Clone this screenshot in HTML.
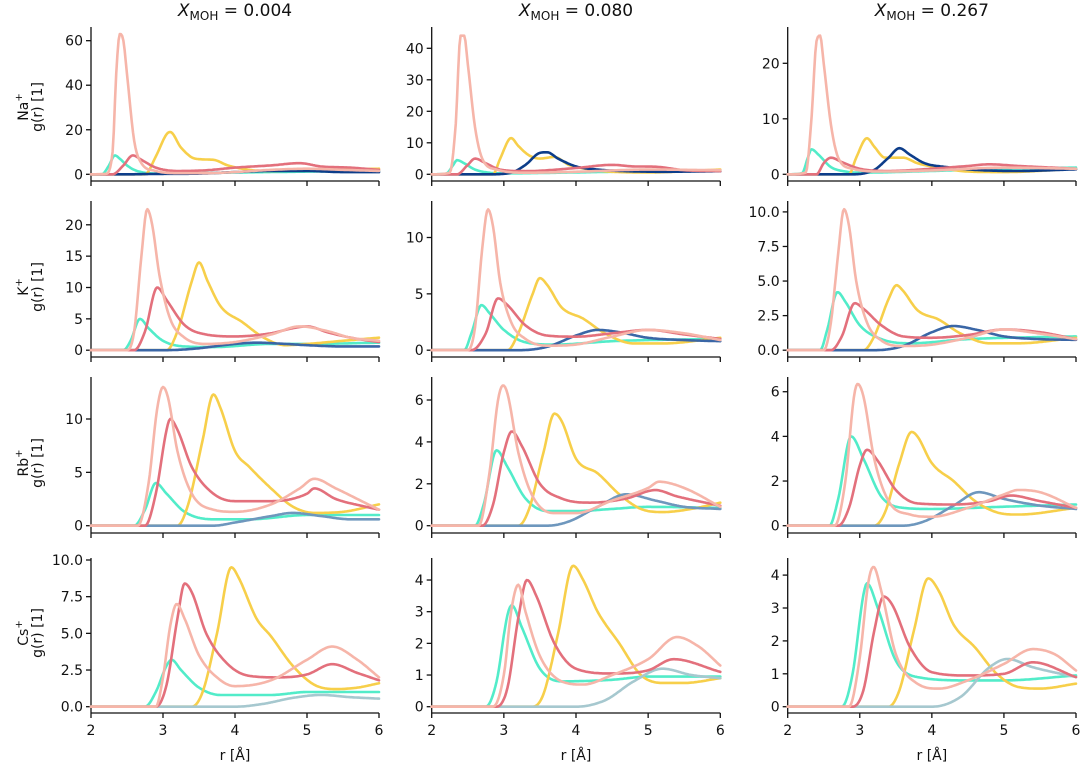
<!DOCTYPE html>
<html><head><meta charset="utf-8"><style>
html,body{margin:0;padding:0;background:#fff;}
svg{display:block;font-family:"DejaVu Sans","Liberation Sans",sans-serif;}
</style></head><body>
<svg id="chart" width="1080" height="768" viewBox="0 0 1080 768" xmlns="http://www.w3.org/2000/svg"></svg>
<script>
// ---- data: [r, g, r, g, ...] pairs ----
const colTitles = ["0.004","0.080","0.267"];
const rowIons = ["Na","K","Rb","Cs"];
const xTicks = [2,3,4,5,6];
const yTicksNa = [[0,20,40,60],[0,10,20,30,40],[0,10,20]];
const yTicksK  = [[0,5,10,15,20],[0,5,10],["0.0","2.5","5.0","7.5","10.0"]];
const yTicksRb = [[0,5,10],[0,2,4,6],[0,2,4,6]];
const yTicksCs = [["0.0","2.5","5.0","7.5","10.0"],[0,1,2,3,4],[0,1,2,3,4]];

const na1_t=[2,0,2.15,0,2.25,4,2.33,8.5,2.4,7,2.5,4,2.6,2,2.8,0.5,3,0.3,4,0.8,5,1.2,6,1.5];
const na1_y=[2,0,2.75,0,2.9,8,3.05,18,3.1,19,3.25,12,3.45,7,3.7,6.5,3.9,4,4.2,2,4.5,1.5,5,2,6,2.5];
const na1_b=[2,0,2.5,0,3,0.2,3.5,0.3,4,1,4.5,1.5,5,1.5,5.5,1,6,1];
const na1_r=[2,0,2.3,0,2.45,4,2.58,8.5,2.7,6.5,2.9,3,3.2,1.5,3.6,1.8,4,3,4.5,4,4.9,5,5.2,3.5,5.6,3,6,2];
const na1_p=[2,0,2.2,0.2,2.3,10,2.35,45,2.4,63,2.45,60,2.5,45,2.6,15,2.7,5,2.9,1.5,3.2,0.5,3.6,0.5,4,1,4.5,2,5,2.5,5.5,2,6,1.5];

const na2_t=[2,0,2.2,0.2,2.3,3,2.35,4.5,2.45,3.5,2.6,1.5,2.8,0.5,3,0.3,4,0.6,5,1,6,1.2];
const na2_y=[2,0,2.85,0,2.95,5,3.1,11.5,3.2,9,3.35,6,3.5,5,3.7,5.5,3.9,3,4.2,1.5,4.5,0.8,5,0.6,6,1.5];
const na2_b=[2,0,2.8,0,3.1,0.5,3.3,3,3.5,6.8,3.6,7,3.75,5,4,2.5,4.3,1.5,4.7,1,5.2,0.8,6,1];
const na2_r=[2,0,2.35,0,2.5,3,2.6,5,2.75,3.5,2.95,1.5,3.3,1,4,2,4.5,3,4.8,2.5,5.1,2.4,5.5,1.3,6,1];
const na2_p=[2,0,2.25,0.5,2.33,15,2.4,44,2.45,44,2.5,35,2.6,15,2.7,5,2.9,1.5,3.3,0.5,4,0.8,5,1.5,6,1.3];

const na3_t=[2,0,2.2,0.2,2.28,3,2.33,4.5,2.43,3.5,2.6,1.3,2.8,0.5,3,0.3,4,0.6,5,1,6,1.2];
const na3_y=[2,0,2.85,0,2.95,3,3.1,6.5,3.2,5,3.35,3,3.6,3,3.8,2,4.1,1.2,4.5,0.5,5,0.4,6,1];
const na3_b=[2,0,2.9,0,3.2,0.8,3.4,3,3.55,4.7,3.7,3.5,3.9,2,4.2,1.3,4.6,0.8,5.2,0.6,6,0.9];
const na3_r=[2,0,2.4,0,2.5,2,2.6,3,2.75,2.2,3,1,3.4,0.6,4,1,4.5,1.5,4.8,1.8,5.2,1.5,6,1];
const na3_p=[2,0,2.25,0.3,2.33,10,2.4,24,2.45,25,2.5,20,2.6,9,2.7,3,2.9,1,3.3,0.5,4,0.7,5,1.2,6,1];

const k1_t=[2,0,2.45,0,2.55,1.5,2.68,5,2.8,3.5,3,1.5,3.3,0.6,3.7,0.5,4.5,1,5,1,6,1.2];
const k1_y=[2,0,3.05,0,3.2,3,3.4,11,3.5,14,3.62,11,3.8,7,4.1,4.5,4.4,2,4.7,0.8,5,1,5.5,1.5,6,2];
const k1_b=[2,0,3,0,3.4,0.2,4,1,4.3,1.2,4.7,1,5,0.8,5.5,0.6,6,0.6];
const k1_r=[2,0,2.6,0,2.75,3,2.92,10,3.05,8,3.3,4,3.6,2.5,4,2.2,4.5,2.7,4.8,3.5,5,3.8,5.3,2.8,5.7,1.8,6,1.3];
const k1_p=[2,0,2.5,0,2.6,3,2.7,15,2.78,22.5,2.85,20,2.95,12,3.1,5,3.3,2,3.6,1,4,1.3,4.5,2.5,4.9,3.8,5.3,3,5.6,2,6,1.5];

const k2_t=[2,0,2.45,0,2.55,1.5,2.69,4,2.8,3.3,3,1.8,3.3,0.7,3.7,0.5,4.5,0.8,5,0.9,6,1];
const k2_y=[2,0,3.05,0,3.2,1.5,3.4,5,3.5,6.4,3.6,5.8,3.8,3.8,4.1,2.8,4.4,1.5,4.8,0.6,5.2,0.6,6,1.1];
const k2_b=[2,0,3.2,0,3.6,0.3,4,1.3,4.3,1.8,4.6,1.6,5,1.1,5.5,0.9,6,0.8];
const k2_r=[2,0,2.55,0,2.75,1.5,2.92,4.6,3.05,4,3.3,2.2,3.6,1.3,4,1.2,4.5,1.5,5,1.8,5.5,1.4,6,1];
const k2_p=[2,0,2.5,0,2.6,2,2.7,9,2.78,12.5,2.85,11,2.95,6,3.1,2.5,3.3,1,3.6,0.4,4,0.5,4.5,1.2,5,1.8,5.5,1.5,6,0.9];

const k3_t=[2,0,2.45,0,2.55,1.5,2.69,4.2,2.8,3.5,3,1.8,3.3,0.8,3.7,0.5,4.5,0.8,6,1];
const k3_y=[2,0,3.05,0,3.2,1,3.4,3.7,3.51,4.7,3.6,4.3,3.8,2.9,4.1,2.2,4.4,1.2,4.8,0.5,5.2,0.5,6,0.9];
const k3_b=[2,0,3.2,0,3.6,0.3,4,1.3,4.3,1.75,4.6,1.5,5,1,5.5,0.8,6,0.75];
const k3_r=[2,0,2.6,0,2.75,1,2.93,3.4,3.05,3,3.3,1.8,3.6,1,4,0.9,4.5,1.1,5,1.5,5.5,1.3,6,0.8];
const k3_p=[2,0,2.5,0,2.6,2,2.7,7,2.78,10.2,2.85,9,2.95,5,3.1,2,3.3,0.7,3.6,0.3,4,0.4,4.5,0.9,5,1.5,5.5,1.2,6,0.8];

const rb1_t=[2,0,2.6,0,2.75,1.5,2.9,4,3.05,3,3.3,1.3,3.7,0.6,4.2,0.6,5,1,6,1];
const rb1_y=[2,0,3.2,0,3.35,2,3.55,8,3.7,12.3,3.8,11,4,7,4.2,5.5,4.5,3.5,4.8,1.8,5.1,1.2,5.5,1.3,6,2];
const rb1_b=[2,0,3.7,0,4,0.3,4.5,0.9,4.8,1.2,5.2,0.9,5.6,0.6,6,0.6];
const rb1_r=[2,0,2.75,0,2.9,3,3.05,9,3.1,10,3.2,9,3.4,5.5,3.7,3,4,2.3,4.5,2.3,5,3,5.1,3.5,5.4,2.5,5.8,1.8,6,1.5];
const rb1_p=[2,0,2.65,0,2.8,4,2.92,11,3,13,3.07,12,3.2,7,3.4,3,3.7,1.5,4,1.3,4.5,2,4.9,3.5,5.1,4.4,5.4,3.5,5.7,2.5,6,1.5];

const rb2_t=[2,0,2.6,0,2.72,1,2.9,3.6,3.05,2.8,3.3,1.3,3.6,0.7,4,0.7,4.5,0.8,5,0.9,6,0.85];
const rb2_y=[2,0,3.2,0,3.35,0.8,3.55,3.5,3.7,5.35,3.8,5,4,3.2,4.3,2.5,4.6,1.5,4.9,0.8,5.2,0.65,5.6,0.8,6,1.1];
const rb2_b=[2,0,3.6,0,3.9,0.2,4.3,0.9,4.7,1.5,5.1,1.2,5.5,0.9,6,0.8];
const rb2_r=[2,0,2.7,0,2.85,1,3,3.5,3.11,4.5,3.25,3.8,3.5,2,3.8,1.3,4.2,1.1,4.7,1.3,5.1,1.7,5.4,1.4,6,0.95];
const rb2_p=[2,0,2.65,0,2.8,2.5,2.92,6,2.99,6.7,3.05,6.3,3.2,3.5,3.4,1.4,3.7,0.6,4,0.6,4.5,1.2,5,1.8,5.15,2.1,5.5,1.8,6,0.9];

const rb3_t=[2,0,2.58,0,2.7,1.2,2.88,4,3.05,3,3.3,1.3,3.6,0.8,4,0.75,5,0.85,6,0.95];
const rb3_y=[2,0,3.2,0,3.35,0.6,3.55,2.8,3.72,4.2,3.8,4,4,2.8,4.3,2,4.6,1.1,4.9,0.6,5.2,0.5,6,0.8];
const rb3_b=[2,0,3.6,0,3.9,0.2,4.3,0.9,4.65,1.5,5,1.2,5.5,0.9,6,0.75];
const rb3_r=[2,0,2.7,0,2.85,0.8,3,2.7,3.1,3.4,3.25,2.9,3.5,1.6,3.8,1,4.3,0.95,4.8,1.1,5.1,1.35,5.5,1.1,6,0.8];
const rb3_p=[2,0,2.65,0,2.8,2,2.92,5.8,2.97,6.35,3.05,5.8,3.2,3,3.4,1.1,3.7,0.5,4,0.4,4.5,0.8,5,1.4,5.2,1.6,5.5,1.5,6,0.8];

const cs1_t=[2,0,2.75,0,2.9,1,3.05,2.8,3.12,3.2,3.25,2.5,3.5,1.3,3.8,0.8,4.5,0.8,5,1,6,1];
const cs1_y=[2,0,3.4,0,3.55,1,3.75,5,3.95,9.5,4.05,8.8,4.3,6,4.5,4.8,4.8,2.8,5.1,1.5,5.4,1.2,5.7,1.3,6,1.6];
const cs1_b=[2,0,4,0,4.4,0.2,4.8,0.6,5.2,0.8,5.6,0.65,6,0.55];
const cs1_r=[2,0,2.9,0,3.05,1.5,3.2,6,3.3,8.4,3.4,7.8,3.6,5,3.9,2.9,4.2,2.1,4.6,2,5,2.2,5.35,2.9,5.7,2.3,6,1.8];
const cs1_p=[2,0,2.9,0,3,2,3.1,5.5,3.19,7,3.3,6,3.5,3.5,3.8,1.8,4,1.4,4.5,1.8,5,3.2,5.35,4.1,5.7,3.2,6,2];

const cs2_t=[2,0,2.75,0,2.9,0.8,3.05,2.9,3.11,3.2,3.25,2.5,3.5,1.2,3.8,0.8,4.5,0.85,5,0.95,6,0.95];
const cs2_y=[2,0,3.4,0,3.55,0.4,3.75,2.3,3.96,4.45,4.1,4,4.3,3,4.6,2,4.9,1,5.2,0.75,5.5,0.75,6,0.9];
const cs2_b=[2,0,4,0,4.4,0.2,4.8,0.8,5.2,1.2,5.6,1,6,0.9];
const cs2_r=[2,0,2.9,0,3.05,0.6,3.2,2.8,3.32,4,3.45,3.5,3.7,2,4,1.2,4.5,1.05,5,1.15,5.35,1.5,6,1.1];
const cs2_p=[2,0,2.85,0,3,1,3.1,3,3.2,3.85,3.3,3,3.5,1.6,3.8,0.8,4.1,0.7,4.5,1,5,1.5,5.4,2.2,5.7,1.9,6,1.3];

const cs3_t=[2,0,2.75,0,2.9,1,3.05,3.4,3.1,3.75,3.25,3,3.5,1.4,3.8,0.9,4.5,0.8,5,0.8,6,0.95];
const cs3_y=[2,0,3.4,0,3.55,0.5,3.75,2.3,3.95,3.9,4.1,3.5,4.3,2.5,4.6,1.8,4.9,1,5.2,0.6,5.5,0.55,6,0.7];
const cs3_b=[2,0,4,0,4.4,0.3,4.8,1.2,5.05,1.45,5.4,1.2,6,0.9];
const cs3_r=[2,0,2.9,0,3.05,0.5,3.2,2.3,3.33,3.35,3.45,3.1,3.7,1.8,4,1.05,4.5,0.95,5,1,5.4,1.35,6,0.9];
const cs3_p=[2,0,2.85,0,3,1.5,3.12,3.8,3.19,4.25,3.3,3.5,3.5,1.6,3.8,0.7,4.1,0.55,4.5,0.8,5,1.3,5.4,1.75,5.7,1.6,6,1.1];

const panelSeries = [
  [[na1_t,na1_y,na1_b,na1_r,na1_p],[na2_t,na2_y,na2_b,na2_r,na2_p],[na3_t,na3_y,na3_b,na3_r,na3_p]],
  [[k1_t,k1_y,k1_b,k1_r,k1_p],[k2_t,k2_y,k2_b,k2_r,k2_p],[k3_t,k3_y,k3_b,k3_r,k3_p]],
  [[rb1_t,rb1_y,rb1_b,rb1_r,rb1_p],[rb2_t,rb2_y,rb2_b,rb2_r,rb2_p],[rb3_t,rb3_y,rb3_b,rb3_r,rb3_p]],
  [[cs1_t,cs1_y,cs1_b,cs1_r,cs1_p],[cs2_t,cs2_y,cs2_b,cs2_r,cs2_p],[cs3_t,cs3_y,cs3_b,cs3_r,cs3_p]]
];
const yTicksAll = [yTicksNa,yTicksK,yTicksRb,yTicksCs];
const seriesNames = ["turquoise","yellow","blue","red","pink"];

// ---- layout ----
const colX0=[91,431.7,787.7], colX1=[379,720.3,1076];
const rowZero=[174.3,350.2,525.7,706.7];
const ppu=[[2.227,3.15,5.55],[6.27,11.27,13.83],[10.67,20.95,22.33],[14.67,31.67,32.9]];
const spineTop=[27,201,377,558], spineBot=[181,357,533,713];
const rowLabelY=[107,287,463,633];
const blues=['#0d3d8a','#3a66a6','#6e97bd','#a6c8cf'];
const baseColors={turquoise:'#52ecc9',yellow:'#f7cf4a',red:'#e3707c',pink:'#f6b5a9'};

const NS="http://www.w3.org/2000/svg";
const svg=document.getElementById('chart');
function mk(tag,attrs,parent){const e=document.createElementNS(NS,tag);for(const k in attrs)e.setAttribute(k,attrs[k]);(parent||svg).appendChild(e);return e;}

function monotone(xs,ys){
  const n=xs.length,d=[],m=new Array(n);
  for(let i=0;i<n-1;i++)d.push((ys[i+1]-ys[i])/(xs[i+1]-xs[i]));
  m[0]=d[0];m[n-1]=d[n-2];
  for(let i=1;i<n-1;i++){m[i]=(d[i-1]*d[i]<=0)?0:(d[i-1]+d[i])/2;}
  for(let i=0;i<n-1;i++){if(d[i]===0){m[i]=0;m[i+1]=0;continue;}const a=m[i]/d[i],b=m[i+1]/d[i],s=a*a+b*b;if(s>9){const t=3/Math.sqrt(s);m[i]=t*a*d[i];m[i+1]=t*b*d[i];}}
  return function(x){let i=0;while(i<n-2&&x>xs[i+1])i++;const h=xs[i+1]-xs[i],t=(x-xs[i])/h,t2=t*t,t3=t2*t;
    return (2*t3-3*t2+1)*ys[i]+(t3-2*t2+t)*h*m[i]+(-2*t3+3*t2)*ys[i+1]+(t3-t2)*h*m[i+1];};
}

for(let c=0;c<3;c++){
  const cx=(colX0[c]+colX1[c])/2;
  const t=mk('text',{x:cx,y:16,'text-anchor':'middle','font-size':'17',fill:'#111'});
  
  
  t.innerHTML='<tspan font-style="italic">X</tspan><tspan font-size="12" dy="4">MOH</tspan><tspan dy="-4"> = '+colTitles[c]+'</tspan>';
}

for(let r=0;r<4;r++){
  const lab=mk('text',{transform:'translate(30,'+rowLabelY[r]+') rotate(-90)','text-anchor':'middle','font-size':'14',fill:'#111'});
  
  
  lab.innerHTML='<tspan x="0" dy="-2">'+rowIons[r]+'<tspan font-size="10" dy="-6">+</tspan></tspan><tspan x="0" dy="20">g(r) [1]</tspan>';
  for(let c=0;c<3;c++){
    const g=mk('g',{});
    
    
    const X=v=>colX0[c]+(v-2)*(colX1[c]-colX0[c])/4;
    const Y=v=>rowZero[r]-v*ppu[r][c];
    // spines
    const ls=mk('line',{x1:colX0[c],x2:colX0[c],y1:spineTop[r],y2:spineBot[r],stroke:'#111','stroke-width':1.3},g);
    
    
    const bs=mk('line',{x1:colX0[c],x2:colX1[c],y1:spineBot[r],y2:spineBot[r],stroke:'#111','stroke-width':1.3},g);
    
    
    xTicks.forEach(v=>{
      const tk=mk('line',{x1:X(v),x2:X(v),y1:spineBot[r],y2:spineBot[r]+5,stroke:'#111','stroke-width':1.3},g);
      
      
      if(r===3){
        const tl=mk('text',{x:X(v),y:spineBot[r]+22,'text-anchor':'middle','font-size':'14',fill:'#111'},g);
        
        
        tl.textContent=v;
      }
    });
    yTicksAll[r][c].forEach(v=>{
      const y=Y(parseFloat(v));
      const tk=mk('line',{x1:colX0[c]-5,x2:colX0[c],y1:y,y2:y,stroke:'#111','stroke-width':1.3},g);
      
      
      const tl=mk('text',{x:colX0[c]-8,y:y+5,'text-anchor':'end','font-size':'14',fill:'#111'},g);
      
      
      tl.textContent=v;
    });
    if(r===3){
      const xl=mk('text',{x:(colX0[c]+colX1[c])/2,y:760,'text-anchor':'middle','font-size':'14',fill:'#111'},g);
      
      
      xl.textContent='r [Å]';
    }
    panelSeries[r][c].forEach((arr,si)=>{
      const xs=[],ys=[];
      for(let i=0;i<arr.length;i+=2){xs.push(arr[i]);ys.push(arr[i+1]);}
      const f=monotone(xs,ys);
      let d='';
      for(let k=0;k<=240;k++){const xv=2+4*k/240;d+=(k?'L':'M')+X(xv).toFixed(1)+','+Y(f(xv)).toFixed(1);}
      const nm=seriesNames[si];
      const col=nm==='blue'?blues[r]:baseColors[nm];
      const p=mk('path',{d:d,fill:'none',stroke:col,'stroke-width':2.6,'stroke-linejoin':'round','stroke-linecap':'round'},g);
      
      
    });
  }
}
</script>
</body></html>
